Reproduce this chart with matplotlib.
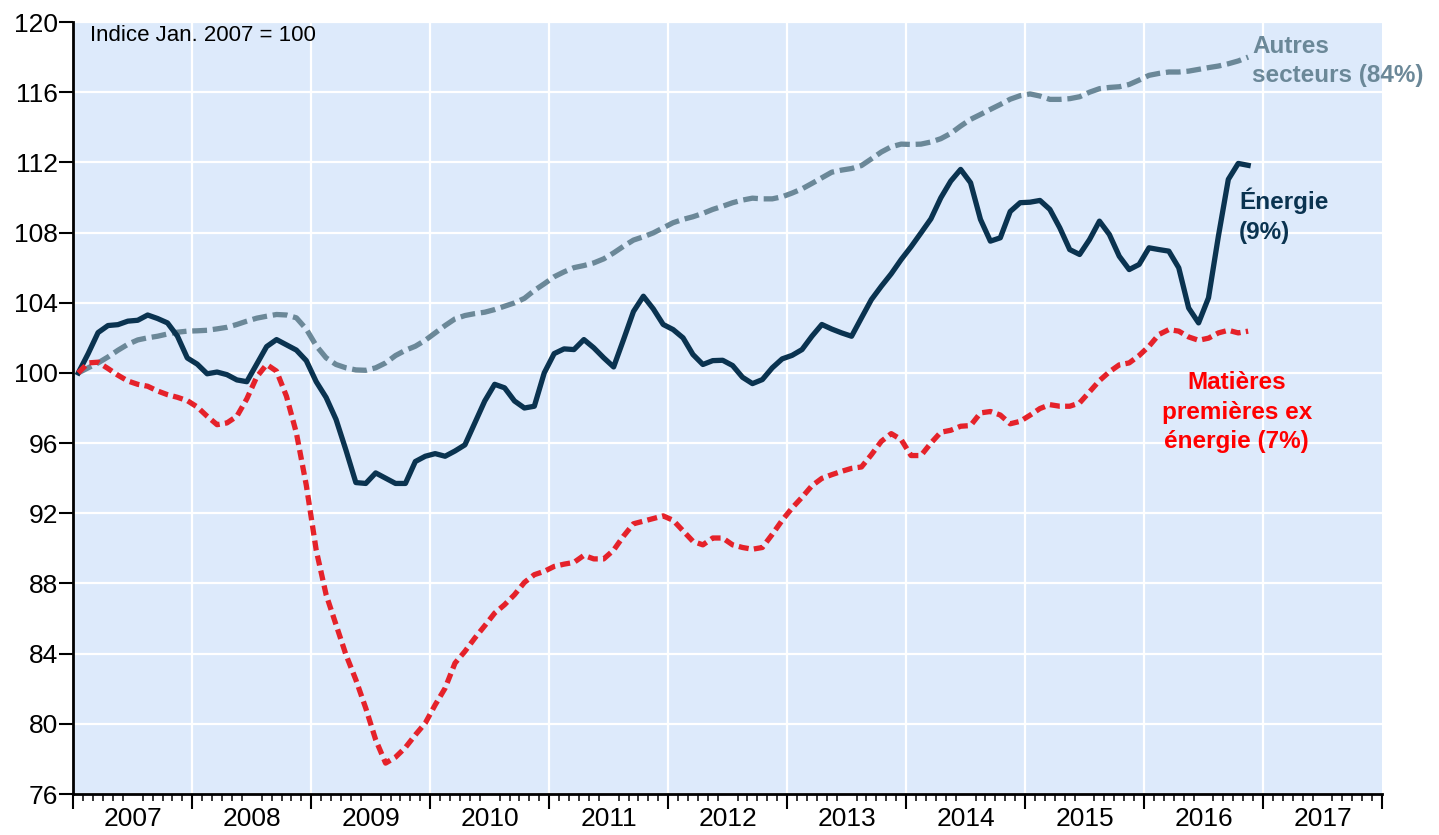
import numpy as np
import matplotlib
matplotlib.use('Agg')
import matplotlib.pyplot as plt

# indices mensuels, Jan. 2007 = 100
energie = [100.0, 101.1, 102.3, 102.7, 102.75, 102.95, 103.0, 103.3, 103.1, 102.85,
           102.1, 100.85, 100.5, 99.95, 100.05, 99.9, 99.6, 99.5, 100.5, 101.5,
           101.9, 101.6, 101.3, 100.7, 99.5, 98.6, 97.35, 95.6, 93.75, 93.7,
           94.3, 94.0, 93.7, 93.7, 94.95, 95.25, 95.4, 95.25, 95.55, 95.9,
           97.15, 98.4, 99.35, 99.15, 98.4, 98.0, 98.1, 100.0, 101.1, 101.37,
           101.33, 101.9, 101.43, 100.86, 100.34, 101.9, 103.5, 104.37, 103.65, 102.76,
           102.47, 102.0, 101.05, 100.48, 100.7, 100.72, 100.42, 99.75, 99.39, 99.62,
           100.29, 100.8, 101.0, 101.33, 102.09, 102.76, 102.5, 102.28, 102.09, 103.14,
           104.18, 104.94, 105.65, 106.46, 107.19, 107.98, 108.78, 109.98, 110.93, 111.6,
           110.84, 108.75, 107.51, 107.7, 109.2, 109.7, 109.73, 109.83, 109.32, 108.27,
           107.03, 106.75, 107.6, 108.65, 107.89, 106.65, 105.89, 106.18, 107.13, 107.03,
           106.94, 105.99, 103.7, 102.85, 104.28, 107.8, 111.03, 111.94, 111.83]

autres = [100.0, 100.29, 100.57, 100.91, 101.29, 101.63, 101.88, 102.0, 102.09, 102.22,
          102.32, 102.38, 102.4, 102.43, 102.51, 102.6, 102.76, 102.95, 103.12, 103.23,
          103.33, 103.3, 103.14, 102.5, 101.55, 100.86, 100.48, 100.29, 100.17, 100.15,
          100.29, 100.57, 100.99, 101.29, 101.52, 101.86, 102.28, 102.7, 103.08, 103.27,
          103.38, 103.46, 103.61, 103.8, 103.99, 104.25, 104.7, 105.08, 105.48, 105.76,
          106.0, 106.12, 106.27, 106.5, 106.84, 107.22, 107.57, 107.76, 107.98, 108.27,
          108.56, 108.75, 108.9, 109.09, 109.32, 109.5, 109.7, 109.85, 109.96, 109.92,
          109.92, 110.04, 110.25, 110.49, 110.8, 111.12, 111.44, 111.56, 111.65, 111.82,
          112.2, 112.59, 112.89, 113.04, 113.02, 113.04, 113.16, 113.35, 113.65, 114.07,
          114.45, 114.73, 115.02, 115.3, 115.6, 115.8, 115.9, 115.78, 115.59, 115.59,
          115.63, 115.74, 116.0, 116.2, 116.27, 116.31, 116.44, 116.69, 116.96, 117.07,
          117.15, 117.15, 117.2, 117.3, 117.4, 117.49, 117.62, 117.78, 118.0]

matieres = [100.0, 100.57, 100.61, 100.25, 99.87, 99.54, 99.35, 99.24, 98.97, 98.76,
            98.61, 98.42, 98.06, 97.53, 97.05, 97.15, 97.53, 98.52, 99.77, 100.48,
            100.1, 98.67, 96.58, 93.6, 89.9, 87.36, 85.65, 83.94, 82.51, 80.89,
            79.09, 77.76, 78.1, 78.65, 79.37, 80.04, 81.08, 82.03, 83.46, 84.13,
            84.89, 85.59, 86.31, 86.79, 87.36, 88.06, 88.5, 88.69, 88.97, 89.1,
            89.2, 89.6, 89.4, 89.4, 89.9, 90.7, 91.4, 91.55, 91.7, 91.85,
            91.6, 91.0, 90.4, 90.2, 90.59, 90.59, 90.2, 90.05, 89.95, 90.05,
            90.8, 91.6, 92.3, 92.91, 93.57, 93.99, 94.2, 94.39, 94.56, 94.64,
            95.34, 96.1, 96.54, 96.2, 95.29, 95.29, 96.0, 96.62, 96.73, 96.96,
            97.0, 97.72, 97.8, 97.6, 97.1, 97.24, 97.59, 97.97, 98.19, 98.1,
            98.1, 98.29, 98.92, 99.56, 100.06, 100.46, 100.57, 100.99, 101.52, 102.19,
            102.47, 102.38, 102.05, 101.86, 101.98, 102.28, 102.43, 102.28, 102.38]

years = list(range(2007, 2018))
yearLabels = [str(y) for y in years]
yTicks = list(range(76, 121, 4))

navy = '#0A3350'
grey = '#6B8898'
red = '#E5222A'

plt.rcParams['font.family'] = ['Liberation Sans', 'DejaVu Sans']

fig = plt.figure(figsize=(14.39, 8.35), dpi=100)
ax = fig.add_axes([73.3 / 1439, 1 - 794 / 835, (1382 - 73.3) / 1439, 772 / 835])
ax.set_facecolor('#DDEAFB')

# points au milieu du mois
x = 2007 + (np.arange(len(energie)) + 0.5) / 12

ax.plot(x, autres, color=grey, lw=3.8, dashes=(2.8, 1.1))
ax.plot(x, energie, color=navy, lw=3.8, solid_joinstyle='round')
ax.plot(x, matieres, color=red, lw=3.8, dashes=(1.9, 1.0))

ax.set_xlim(2007, 2018)
ax.set_ylim(76, 120)

# grille
ax.set_axisbelow(True)
ax.set_yticks(yTicks)
ax.yaxis.grid(True, color='white', lw=1.6)
for yr in years[1:]:
    ax.axvline(yr, color='white', lw=1.6, zorder=0.5)

for side in ['top', 'right']:
    ax.spines[side].set_visible(False)
for side in ['left', 'bottom']:
    ax.spines[side].set_linewidth(2)

ax.tick_params(axis='y', length=10, width=1.5, pad=1, labelsize=19)

ax.set_xticks([y + 0.5 for y in years], yearLabels)
ax.tick_params(axis='x', which='major', length=0, pad=9, labelsize=19)
ax.set_xticks(np.arange(0, 133) / 12 + 2007, minor=True)
ax.tick_params(axis='x', which='minor', length=5, width=1.1)

sec = ax.secondary_xaxis('bottom')
sec.set_xticks(range(2007, 2019))
sec.set_xticklabels([])
sec.tick_params(length=11, width=1.5)
sec.spines['bottom'].set_visible(False)

ax.text(0.013, 0.996, 'Indice Jan. 2007 = 100', transform=ax.transAxes,
        ha='left', va='top', fontsize=16)
ax.text(2016.91, 117.78, 'Autres\nsecteurs (84%)', color=grey, fontsize=17.5,
        fontweight='bold', ha='left', va='center', linespacing=1.35)
ax.text(2016.80, 108.95, 'Énergie\n(9%)', color=navy, fontsize=17.5,
        fontweight='bold', ha='left', va='center', linespacing=1.35)
ax.text(2016.78, 97.77, 'Matières\npremières ex\nénergie (7%)', color='#FF0000',
        fontsize=17.5, fontweight='bold', ha='center', va='center',
        multialignment='center', linespacing=1.35)

fig.savefig('out.png', dpi=100)
